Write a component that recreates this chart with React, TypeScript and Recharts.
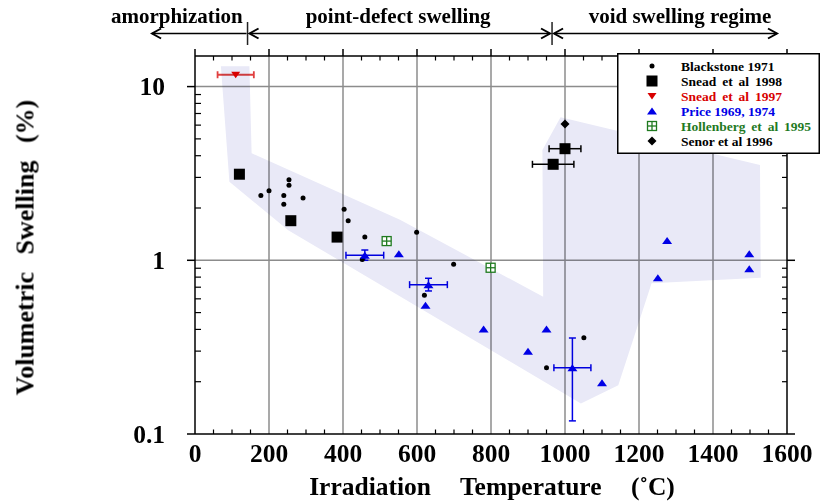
import * as React from 'react';
import {
  ScatterChart,
  Scatter,
  XAxis,
  YAxis,
  ReferenceLine,
  ErrorBar,
  Legend,
} from 'recharts';

const FONT = "'Liberation Serif', 'Times New Roman', serif";

// chart frame
const W = 820;
const H = 501;
const MARGIN = { top: 46, right: 23, bottom: 27, left: 135 };
const Y_AXIS_W = 60;
const RIGHT_AXIS_W = 10;
const X_AXIS_H = 40;
const TOP_AXIS_H = 10;
const PLOT_LEFT = MARGIN.left + Y_AXIS_W;
const PLOT_RIGHT = W - MARGIN.right - RIGHT_AXIS_W;
const PLOT_TOP = MARGIN.top + TOP_AXIS_H;
const PLOT_BOTTOM = H - MARGIN.bottom - X_AXIS_H;

const X_DOMAIN = [0, 1600];
const Y_DOMAIN = [0.1, 15];

// ticks
const X_MAJOR = [0, 200, 400, 600, 800, 1000, 1200, 1400, 1600];
const X_TICKS = Array.from({ length: 33 }, (_, i) => i * 50);
const Y_MAJOR = [0.1, 1, 10];
const Y_TICKS = [0.1, 0.2, 0.3, 0.4, 0.5, 0.6, 0.7, 0.8, 0.9, 1, 2, 3, 4, 5, 6, 7, 8, 9, 10];
const X_GRID = [200, 400, 600, 800, 1000, 1200, 1400];
const Y_GRID = [1, 10];

// data: t = irradiation temperature (C), s = volumetric swelling (%)
const blackstone1971 = [
  { t: 178, s: 2.36 }, { t: 200, s: 2.51 }, { t: 240, s: 2.36 }, { t: 240, s: 2.1 },
  { t: 254, s: 2.91 }, { t: 254, s: 2.7 }, { t: 292, s: 2.28 }, { t: 403, s: 1.97 },
  { t: 414, s: 1.69 }, { t: 459, s: 1.36 }, { t: 452, s: 1.01 }, { t: 599, s: 1.45 },
  { t: 699, s: 0.95 }, { t: 620, s: 0.63 }, { t: 1051, s: 0.358 }, { t: 950, s: 0.241 },
];
const snead1998 = [
  { t: 120, s: 3.13 }, { t: 259, s: 1.69 }, { t: 384, s: 1.36 },
];
const snead1998Err = [
  { t: 1000, s: 4.39, xe: 43 }, { t: 968, s: 3.57, xe: 56 },
];
const snead1997 = [{ t: 110, s: 11.7, xe: 49 }];
const price = [
  { t: 551, s: 1.09 }, { t: 623, s: 0.551 }, { t: 780, s: 0.402 }, { t: 950, s: 0.402 },
  { t: 900, s: 0.299 }, { t: 1100, s: 0.197 }, { t: 1251, s: 0.794 }, { t: 1276, s: 1.3 },
  { t: 1498, s: 1.09 }, { t: 1498, s: 0.895 },
];
const priceErr = [
  { t: 459, s: 1.07, xe: 51, ye: [0.07, 0.076] },
  { t: 631, s: 0.724, xe: 51, ye: [0.058, 0.064] },
  { t: 1020, s: 0.241, xe: 50, ye: [0.122, 0.116] },
];
const hollenberg1995 = [{ t: 518, s: 1.29 }, { t: 799, s: 0.906 }];
const senor1996 = [{ t: 1000, s: 6.09 }];

// shaded band outline
const swellingBand = [
  { t: 70, s: 13.1 }, { t: 147, s: 13.1 }, { t: 153, s: 4.13 }, { t: 554, s: 1.71 },
  { t: 941, s: 0.617 }, { t: 939, s: 4.31 }, { t: 988, s: 6.65 }, { t: 1527, s: 3.54 },
  { t: 1529, s: 0.794 }, { t: 1234, s: 0.737 }, { t: 1144, s: 0.191 }, { t: 1043, s: 0.15 },
  { t: 252, s: 1.49 }, { t: 93, s: 2.83 },
];

// regime annotations above the plot
const REGIME_LABELS = ['amorphization', 'point-defect swelling', 'void swelling regime'];
const REGIME_LABEL_T = [-49, 549, 1311];
const REGIME_BOUNDS_T = [142, 965];
const REGIME_ENDS_T = [-116, 1573];

const RED = '#d80000';
const BLUE = '#0000e6';
const GREEN = '#1f7a1f';

const LEGEND_ITEMS = [
  { name: 'Blackstone 1971', color: '#000', marker: 'dot', spacing: 0 },
  { name: 'Snead et al 1998', color: '#000', marker: 'square', spacing: 2.5 },
  { name: 'Snead et al 1997', color: RED, marker: 'down', spacing: 2.5 },
  { name: 'Price 1969, 1974', color: BLUE, marker: 'up', spacing: 0 },
  { name: 'Hollenberg et al 1995', color: GREEN, marker: 'cross', spacing: 2.5 },
  { name: 'Senor et al 1996', color: '#000', marker: 'diamond', spacing: 0 },
];

const px = (t: number) =>
  PLOT_LEFT + ((t - X_DOMAIN[0]) / (X_DOMAIN[1] - X_DOMAIN[0])) * (PLOT_RIGHT - PLOT_LEFT);

// marker shapes
const renderMarker = (kind: string, cx: number, cy: number, color: string) => {
  switch (kind) {
    case 'dot':
      return <circle cx={cx} cy={cy} r={2.5} fill={color} />;
    case 'square':
      return <rect x={cx - 5.5} y={cy - 5.5} width={11} height={11} fill={color} />;
    case 'down':
      return <polygon points={`${cx - 4.5},${cy - 3} ${cx + 4.5},${cy - 3} ${cx},${cy + 3.5}`} fill={color} />;
    case 'up':
      return <polygon points={`${cx - 5},${cy + 3.5} ${cx + 5},${cy + 3.5} ${cx},${cy - 3.5}`} fill={color} />;
    case 'cross':
      return (
        <g stroke={color} strokeWidth={1.3} fill="#fff">
          <rect x={cx - 4.5} y={cy - 4.5} width={9} height={9} />
          <line x1={cx - 4.5} x2={cx + 4.5} y1={cy} y2={cy} />
          <line x1={cx} x2={cx} y1={cy - 4.5} y2={cy + 4.5} />
        </g>
      );
    case 'diamond':
      return <polygon points={`${cx},${cy - 4.5} ${cx + 4.5},${cy} ${cx},${cy + 4.5} ${cx - 4.5},${cy}`} fill={color} />;
    default:
      return <g />;
  }
};

const shapeOf = (kind: string, color: string) => (p: any) => renderMarker(kind, p.cx, p.cy, color);

// multiply so error bars drawn underneath stay visible
const BandShape = (p: any) => (
  <polygon
    points={p.points.map((q: any) => `${q.x},${q.y}`).join(' ')}
    fill="#e9e9f7"
    stroke="none"
    style={{ mixBlendMode: 'multiply' }}
  />
);

// axis ticks (tickSize/tickMargin are 0, so x/y sit on the axis line)
const labelStyle = { fontFamily: FONT, fontWeight: 'bold' as const, fill: '#000' };

const BottomTick = ({ x, y, payload }: any) => {
  if (X_MAJOR.includes(payload.value)) {
    return (
      <text x={x} y={y + 28} textAnchor="middle" fontSize={25.5} {...labelStyle}>
        {payload.value}
      </text>
    );
  }
  return <line x1={x} x2={x} y1={y} y2={y - 4.5} stroke="#000" strokeWidth={1.2} />;
};

const TopTick = ({ x, y, payload }: any) => {
  if (X_MAJOR.includes(payload.value)) {
    return <line x1={x} x2={x} y1={y - 7} y2={y} stroke="#000" strokeWidth={1.5} />;
  }
  return <line x1={x} x2={x} y1={y} y2={y + 4.5} stroke="#000" strokeWidth={1.2} />;
};

const LeftTick = ({ x, y, payload }: any) => {
  if (Y_MAJOR.includes(payload.value)) {
    return (
      <g>
        <line x1={x - 8} x2={x} y1={y} y2={y} stroke="#000" strokeWidth={1.5} />
        <text x={x - 30} y={y + 8.5} textAnchor="end" fontSize={25.5} {...labelStyle}>
          {payload.value}
        </text>
      </g>
    );
  }
  return <line x1={x} x2={x + 6} y1={y} y2={y} stroke="#000" strokeWidth={1.2} />;
};

const RightTick = ({ x, y, payload }: any) => {
  if (Y_MAJOR.includes(payload.value)) {
    return <line x1={x} x2={x + 8} y1={y} y2={y} stroke="#000" strokeWidth={1.5} />;
  }
  return <line x1={x - 5} x2={x} y1={y} y2={y} stroke="#000" strokeWidth={1.2} />;
};

const LegendBox = () => (
  <svg width={203} height={101} style={{ display: 'block' }}>
    <rect x={0.75} y={0.75} width={201.5} height={99.5} fill="#fff" stroke="#000" strokeWidth={1.5} />
    {LEGEND_ITEMS.map((item, i) => {
      const cy = 13 + i * 15;
      return (
        <g key={item.name}>
          {renderMarker(item.marker, 35, cy, item.color)}
          <text
            x={64}
            y={cy + 4.5}
            fontSize={13.5}
            fontFamily={FONT}
            fontWeight="bold"
            fill={item.color}
            style={{ wordSpacing: item.spacing }}
          >
            {item.name}
          </text>
        </g>
      );
    })}
  </svg>
);

const Chevron = ({ x, y, dir }: { x: number; y: number; dir: number }) => (
  <path
    d={`M${x + dir * 9},${y - 5} L${x},${y} L${x + dir * 9},${y + 5}`}
    fill="none"
    stroke="#000"
    strokeWidth={2}
  />
);

const Annotations = () => {
  const ay = 33.5;
  const [b1, b2] = REGIME_BOUNDS_T.map(px);
  const [e1, e2] = REGIME_ENDS_T.map(px);
  return (
    <svg
      width={W}
      height={H}
      style={{ position: 'absolute', left: 0, top: 0, pointerEvents: 'none' }}
    >
      {REGIME_LABELS.map((label, i) => (
        <text
          key={label}
          x={px(REGIME_LABEL_T[i])}
          y={22.5}
          textAnchor="middle"
          fontSize={21}
          {...labelStyle}
        >
          {label}
        </text>
      ))}
      <line x1={b1} x2={b1} y1={22} y2={45} stroke="#222" strokeWidth={1.5} />
      <line x1={b2} x2={b2} y1={22} y2={45} stroke="#222" strokeWidth={1.5} />
      <line x1={e1} x2={b1 - 1} y1={ay} y2={ay} stroke="#000" strokeWidth={1.5} />
      <Chevron x={e1} y={ay} dir={1} />
      <line x1={b1 + 2} x2={b2 - 2} y1={ay} y2={ay} stroke="#000" strokeWidth={1.5} />
      <Chevron x={b1 + 2} y={ay} dir={1} />
      <Chevron x={b2 - 2} y={ay} dir={-1} />
      <line x1={b2 + 2} x2={e2} y1={ay} y2={ay} stroke="#000" strokeWidth={1.5} />
      <Chevron x={b2 + 2} y={ay} dir={1} />
      <Chevron x={e2} y={ay} dir={-1} />

      <text
        x={(PLOT_LEFT + PLOT_RIGHT) / 2 + 1}
        y={494.5}
        textAnchor="middle"
        fontSize={25.5}
        style={{ wordSpacing: 23 }}
        {...labelStyle}
      >
        Irradiation Temperature (˚C)
      </text>
      <text
        transform={`translate(33.5, ${(PLOT_TOP + PLOT_BOTTOM) / 2 + 2.5}) rotate(-90)`}
        textAnchor="middle"
        fontSize={26}
        style={{ wordSpacing: 11 }}
        {...labelStyle}
      >
        Volumetric Swelling (%)
      </text>
    </svg>
  );
};

const axisLine = { stroke: '#000', strokeWidth: 1.5 };
const gridStroke = '#8c8c8c';

export default function App() {
  return (
    <div style={{ position: 'absolute', left: 0, top: 0, width: W, height: H, background: '#fff' }}>
      <ScatterChart width={W} height={H} margin={MARGIN}>
        <XAxis
          xAxisId="b"
          dataKey="t"
          type="number"
          domain={X_DOMAIN}
          ticks={X_TICKS}
          interval={0}
          tickSize={0}
          tickMargin={0}
          tickLine={false}
          axisLine={axisLine}
          height={X_AXIS_H}
          tick={BottomTick}
        />
        <XAxis
          xAxisId="t"
          orientation="top"
          dataKey="t"
          type="number"
          domain={X_DOMAIN}
          allowDataOverflow
          ticks={X_TICKS}
          interval={0}
          tickSize={0}
          tickMargin={0}
          tickLine={false}
          axisLine={axisLine}
          height={TOP_AXIS_H}
          tick={TopTick}
        />
        <YAxis
          yAxisId="l"
          dataKey="s"
          type="number"
          scale="log"
          domain={Y_DOMAIN}
          ticks={Y_TICKS}
          interval={0}
          tickSize={0}
          tickMargin={0}
          tickLine={false}
          axisLine={axisLine}
          width={Y_AXIS_W}
          tick={LeftTick}
        />
        <YAxis
          yAxisId="r"
          orientation="right"
          dataKey="s"
          type="number"
          scale="log"
          domain={Y_DOMAIN}
          allowDataOverflow
          ticks={Y_TICKS}
          interval={0}
          tickSize={0}
          tickMargin={0}
          tickLine={false}
          axisLine={axisLine}
          width={RIGHT_AXIS_W}
          tick={RightTick}
        />

        <Scatter
          name="band"
          data={swellingBand}
          xAxisId="b"
          yAxisId="l"
          shape={() => <g />}
          line={BandShape}
          lineType="joint"
          legendType="none"
          isAnimationActive={false}
        />

        {X_GRID.map((v) => (
          <ReferenceLine key={`gx${v}`} x={v} xAxisId="b" yAxisId="l" stroke={gridStroke} strokeWidth={1.5} />
        ))}
        {Y_GRID.map((v) => (
          <ReferenceLine key={`gy${v}`} y={v} xAxisId="b" yAxisId="l" stroke={gridStroke} strokeWidth={1.5} />
        ))}

        <Scatter name="Blackstone 1971" data={blackstone1971} xAxisId="b" yAxisId="l"
          shape={shapeOf('dot', '#000')} isAnimationActive={false} />
        <Scatter name="Snead et al 1998" data={snead1998} xAxisId="b" yAxisId="l"
          shape={shapeOf('square', '#000')} isAnimationActive={false} />
        <Scatter name="Snead et al 1998 err" data={snead1998Err} xAxisId="b" yAxisId="l"
          shape={shapeOf('square', '#000')} isAnimationActive={false}>
          <ErrorBar dataKey="xe" direction="x" width={3.5} stroke="#000" strokeWidth={1.5} />
        </Scatter>
        <Scatter name="Snead et al 1997" data={snead1997} xAxisId="b" yAxisId="l"
          shape={shapeOf('down', RED)} isAnimationActive={false}>
          <ErrorBar dataKey="xe" direction="x" width={3.5} stroke="#e04040" strokeWidth={1.8} />
        </Scatter>
        <Scatter name="Price 1969, 1974" data={price} xAxisId="b" yAxisId="l"
          shape={shapeOf('up', BLUE)} isAnimationActive={false} />
        <Scatter name="Price err" data={priceErr} xAxisId="b" yAxisId="l"
          shape={shapeOf('up', BLUE)} isAnimationActive={false}>
          <ErrorBar dataKey="xe" direction="x" width={3.5} stroke={BLUE} strokeWidth={1.5} />
          <ErrorBar dataKey="ye" direction="y" width={3.5} stroke={BLUE} strokeWidth={1.5} />
        </Scatter>
        <Scatter name="Hollenberg et al 1995" data={hollenberg1995} xAxisId="b" yAxisId="l"
          shape={shapeOf('cross', GREEN)} isAnimationActive={false} />
        <Scatter name="Senor et al 1996" data={senor1996} xAxisId="b" yAxisId="l"
          shape={shapeOf('diamond', '#000')} isAnimationActive={false} />

        <Legend
          layout="vertical"
          align="center"
          verticalAlign="middle"
          wrapperStyle={{ position: 'absolute', left: 617, top: 53, width: 203, height: 101 }}
          content={() => <LegendBox />}
        />
      </ScatterChart>
      <Annotations />
    </div>
  );
}
